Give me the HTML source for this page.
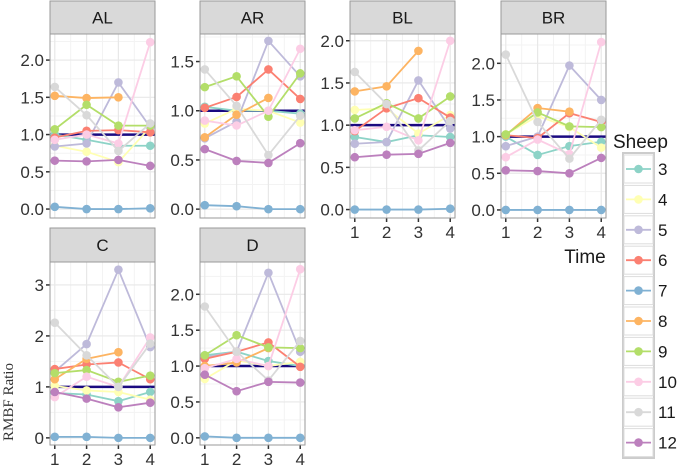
<!DOCTYPE html>
<html><head><meta charset="utf-8"><style>
body{margin:0;background:#fff;}
svg{display:block;font-family:"Liberation Sans",sans-serif;}
</style></head><body>
<svg id="chart" width="685" height="470"></svg>
<script>
const times=[1,2,3,4];
const sheepIds=[3,4,5,6,7,8,9,10,11,12];
const sheepColors=["#8DD3C7","#FFFFB3","#BEBADA","#FB8072","#80B1D3","#FDB462","#B3DE69","#FCCDE5","#D9D9D9","#BC80BD"];
const facetNames=["AL","AR","BL","BR","C","D"];
const ticksAL=[0,0.5,1,1.5,2];
const ticksAR=[0,0.5,1,1.5];
const ticksBL=[0,0.5,1,1.5,2];
const ticksBR=[0,0.5,1,1.5,2];
const ticksC=[0,1,2,3];
const ticksD=[0,0.5,1,1.5,2];
const valuesAL=[[1.0,0.93,0.85,0.85],[0.85,0.77,0.63,1.1],[0.84,0.88,1.70,1.1],[0.96,1.05,1.06,1.03],[0.03,0,0,0.01],[1.52,1.49,1.50,null],[1.07,1.40,1.12,1.12],[0.93,1.0,0.88,2.24],[1.64,1.26,0.78,1.15],[0.65,0.64,0.66,0.58]];
const valuesAR=[[1.04,1.0,1.0,0.97],[0.87,1.02,1.0,0.88],[0.72,0.89,1.71,1.35],[1.03,1.14,1.42,1.12],[0.04,0.03,0,0],[0.73,0.96,1.13,null],[1.24,1.35,0.94,1.38],[0.9,0.85,1.0,1.63],[1.42,1.05,0.55,0.95],[0.61,0.49,0.47,0.67]];
const valuesBL=[[0.86,0.80,0.88,0.86],[1.18,1.2,0.9,1.12],[0.78,0.8,1.53,0.96],[0.93,1.2,1.32,1.09],[0,0,0,0.01],[1.4,1.46,1.88,null],[1.08,1.26,1.08,1.34],[0.94,0.98,0.82,2.0],[1.63,1.25,0.7,1.05],[0.62,0.65,0.66,0.79]];
const valuesBR=[[1.0,0.75,0.87,0.93],[1.03,1.28,1.13,0.85],[0.87,1.0,1.97,1.5],[1.02,0.98,1.32,1.2],[0,0,0,0],[1.02,1.39,1.34,null],[1.03,1.33,1.14,1.13],[0.72,0.96,0.76,2.29],[2.12,1.2,0.7,1.23],[0.54,0.53,0.5,0.71]];
const valuesC=[[0.88,0.85,0.72,0.9],[1.02,0.93,0.9,0.75],[1.3,1.84,3.3,1.78],[1.35,1.44,1.48,1.15],[0.02,0.02,0,0],[1.15,1.55,1.68,null],[1.27,1.33,1.1,1.22],[0.8,1.2,1.0,1.97],[2.26,1.62,1.0,1.85],[0.9,0.77,0.6,0.69]];
const valuesD=[[1.15,1.2,1.07,1.0],[0.82,1.08,1.0,1.06],[1.12,1.2,2.3,1.2],[1.1,1.2,1.33,0.99],[0.02,0,0,0],[1.0,1.05,1.25,null],[1.15,1.43,1.26,1.25],[0.97,1.1,1.0,2.35],[1.83,1.2,0.8,1.35],[0.88,0.65,0.78,0.77]];
const refValue=1;

const NS="http://www.w3.org/2000/svg";
const svg=document.getElementById('chart');
function mk(tag,attrs,parent){const e=document.createElementNS(NS,tag);for(const k in attrs)e.setAttribute(k,attrs[k]);(parent||svg).appendChild(e);return e;}

const layouts=[
 {left:50,top:1,pt:34,pb:218,yMin:-0.12,yMax:2.35,xAxis:false,ticks:ticksAL,vals:valuesAL,fmt:1},
 {left:200,top:1,pt:34,pb:218,yMin:-0.09,yMax:1.78,xAxis:false,ticks:ticksAR,vals:valuesAR,fmt:1},
 {left:350,top:1,pt:34,pb:218,yMin:-0.1,yMax:2.08,xAxis:true,ticks:ticksBL,vals:valuesBL,fmt:1},
 {left:501,top:1,pt:34,pb:218,yMin:-0.11,yMax:2.4,xAxis:true,ticks:ticksBR,vals:valuesBR,fmt:1},
 {left:50,top:228,pt:262,pb:445,yMin:-0.14,yMax:3.45,xAxis:true,ticks:ticksC,vals:valuesC,fmt:0},
 {left:200,top:228,pt:262,pb:445,yMin:-0.1,yMax:2.45,xAxis:true,ticks:ticksD,vals:valuesD,fmt:1}
];
const W=105;
layouts.forEach((L,fi)=>{
  const g=mk('g',{});
  
  
  const x=t=>L.left+(t-0.85)/3.3*W;
  const y=v=>L.pb-(v-L.yMin)/(L.yMax-L.yMin)*(L.pb-L.pt);
  const st=mk('rect',{x:L.left,y:L.top,width:W,height:L.pt-L.top,fill:'#d9d9d9',stroke:'#999','stroke-width':1},g);
  
  const stt=mk('text',{x:L.left+W/2,y:(L.top+L.pt)/2+6,'text-anchor':'middle','font-size':17,fill:'#1a1a1a'},g);
  stt.textContent=facetNames[fi];
  
  mk('rect',{x:L.left,y:L.pt,width:W,height:L.pb-L.pt,fill:'#fff'},g);
  const step=L.ticks[1]-L.ticks[0];
  for(let i=0;i<L.ticks.length+1;i++){const v=L.ticks[0]+step*(i+0.5);if(y(v)>L.pt)mk('line',{x1:L.left,x2:L.left+W,y1:y(v),y2:y(v),stroke:'#f3f3f3','stroke-width':1},g);}
  for(let t=1.5;t<4;t+=1)mk('line',{x1:x(t),x2:x(t),y1:L.pt,y2:L.pb,stroke:'#f3f3f3','stroke-width':1},g);
  L.ticks.forEach(v=>{
    mk('line',{x1:L.left,x2:L.left+W,y1:y(v),y2:y(v),stroke:'#e8e8e8','stroke-width':1.2},g);
    mk('line',{x1:L.left-4,x2:L.left,y1:y(v),y2:y(v),stroke:'#333','stroke-width':1.5},g);
    const tl=mk('text',{x:L.left-6,y:y(v)+6,'text-anchor':'end','font-size':17,fill:'#333'},g);
    tl.textContent=L.fmt?v.toFixed(1):String(v);
    
  });
  times.forEach(t=>{
    mk('line',{x1:x(t),x2:x(t),y1:L.pt,y2:L.pb,stroke:'#e8e8e8','stroke-width':1.2},g);
    if(L.xAxis){
      mk('line',{x1:x(t),x2:x(t),y1:L.pb,y2:L.pb+4,stroke:'#333','stroke-width':1.5},g);
      const xl=mk('text',{x:x(t),y:L.pb+20,'text-anchor':'middle','font-size':17,fill:'#333'},g);
      xl.textContent=String(t);
      
    }
  });
  const rl=mk('line',{x1:L.left,x2:L.left+W,y1:y(refValue),y2:y(refValue),stroke:'#1a0a80','stroke-width':2.5},g);
  
  L.vals.forEach((arr,si)=>{
    const c=sheepColors[si];
    const pts=[];arr.forEach((v,i)=>{if(v!==null)pts.push(x(times[i])+','+y(v));});
    const pl=mk('polyline',{points:pts.join(' '),fill:'none',stroke:c,'stroke-width':1.8},g);
    
    
    arr.forEach((v,i)=>{if(v===null)return;
      const p=mk('circle',{cx:x(times[i]),cy:y(v),r:4.3,fill:c},g);
      
      
    });
  });
  const br=mk('rect',{x:L.left,y:L.pt,width:W,height:L.pb-L.pt,fill:'none',stroke:'#999','stroke-width':1},g);
  
});
const xt=mk('text',{x:585,y:263,'text-anchor':'middle','font-size':19,fill:'#1a1a1a'});
xt.textContent='Time';

const yt=mk('text',{x:0,y:0,transform:'translate(13,402) rotate(-90)','text-anchor':'middle','font-size':15,fill:'#333','font-family':'Liberation Serif, serif'});
yt.textContent='RMBF Ratio';

const lg=mk('g',{});

const lt=mk('text',{x:613,y:148,'font-size':19,fill:'#1a1a1a'},lg);
lt.textContent='Sheep';

mk('rect',{x:623,y:153,width:31,height:305,fill:'#fff',stroke:'#ccc','stroke-width':2},lg);
sheepIds.forEach((id,i)=>{
  const cy=169+i*30.4;
  const e=mk('g',{},lg);
  
  
  mk('rect',{x:624,y:cy-14,width:29,height:28,fill:'#fff',stroke:'#ddd','stroke-width':1},e);
  mk('line',{x1:626,x2:651,y1:cy,y2:cy,stroke:sheepColors[i],'stroke-width':1.8},e);
  mk('circle',{cx:638.5,cy:cy,r:4.3,fill:sheepColors[i]},e);
  const t=mk('text',{x:658,y:cy+6,'font-size':17,fill:'#1a1a1a'},e);
  t.textContent=String(id);
});
</script>
</body></html>
